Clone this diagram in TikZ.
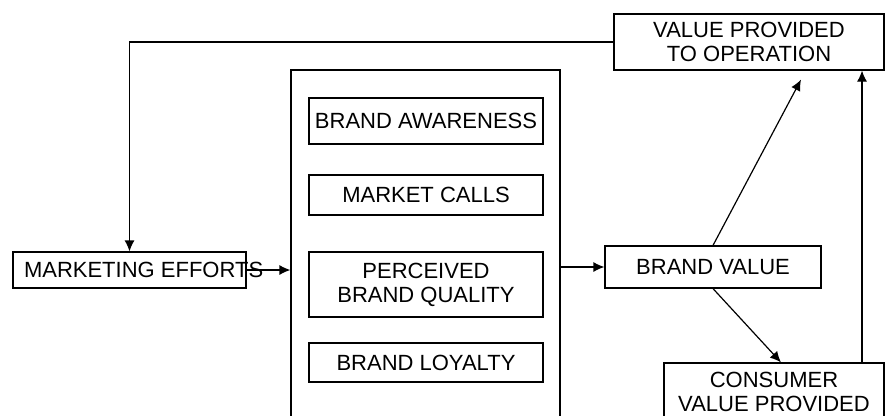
\documentclass[tikz,border=0pt]{standalone}
\usepackage{fontspec}
\setmainfont{Liberation Sans}
\usetikzlibrary{arrows.meta}
\tikzstyle{block} = [rectangle, draw=black, line width=1.2pt, text centered, align=center, inner sep=1pt, font=\fontsize{22}{24}\selectfont]
\tikzstyle{frame} = [rectangle, draw=black, line width=1.2pt, minimum width=269pt, minimum height=370pt]
\tikzstyle{arrow} = [line width=1.2pt, -{Latex[length=11pt, width=10pt]}]

\begin{document}
\begin{tikzpicture}[x=1pt, y=-1pt, node distance=74pt]
\clip (0,0) rectangle (885,415);
\node (ops) [block, minimum width=270pt, minimum height=56pt] at (749,42)
   {VALUE PROVIDED\\TO OPERATION};
\node (frame) [frame] at (425.5,255) {};
\node (aware) [block, minimum width=234pt, minimum height=46pt] at (426,121)
   {BRAND AWARENESS};
\node (calls) [block, minimum width=234pt, minimum height=40pt, below of=aware]
   {MARKET CALLS};
\node (quality) [block, minimum width=234pt, minimum height=65pt, below of=calls, node distance=89.5pt]
   {PERCEIVED\\BRAND QUALITY};
\node (loyalty) [block, minimum width=234pt, minimum height=39pt, below of=quality, node distance=78pt]
   {BRAND LOYALTY};
\node (effort) [block, inner sep=0pt, minimum width=233pt, minimum height=36pt] at (129.5,270)
   {\makebox[233pt][l]{\hspace{11pt}MARKETING EFFORTS}};
\node (bvalue) [block, minimum width=216pt, minimum height=42pt] at (713,267)
   {BRAND VALUE};
\node (consumer) [block, minimum width=220pt, minimum height=58pt] at (774,392)
   {CONSUMER\\VALUE PROVIDED};
\coordinate (opsin) at ([xshift=52pt, yshift=-9pt]ops.south);

\draw [arrow] (ops.west) -| (effort.north);
\draw [arrow] (effort.east) -- (effort.east -| frame.west);
\draw [arrow] (frame.east |- bvalue.west) -- (bvalue.west);
\draw [arrow] (bvalue.north) -- (opsin);
\draw [arrow] (bvalue.south) -- ([xshift=7pt]consumer.north);
\draw [arrow] ([xshift=88pt]consumer.north) -- ([xshift=88pt]consumer.north |- ops.south);

\end{tikzpicture}
\end{document}
